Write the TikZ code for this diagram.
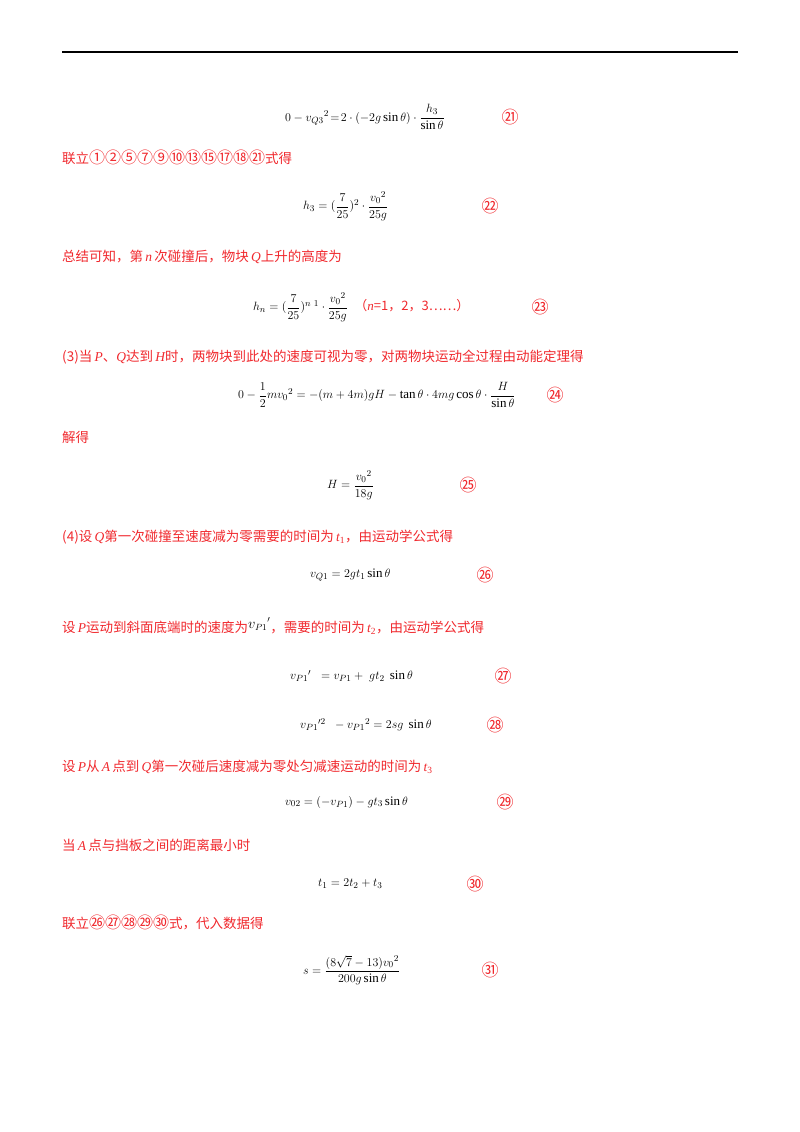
\documentclass[tikz,border=0pt]{standalone}
\usepackage{fontspec}
\setmainfont{Liberation Serif}
\newfontfamily\cjk{Noto Sans CJK SC}
\usepackage{amsmath}
\definecolor{rd}{RGB}{240,40,45}
\newcommand{\li}[1]{{\rmfamily\itshape #1}}
\newcommand{\lt}[1]{{\rmfamily\itshape t}{\rmfamily\textsubscript{#1}}}
\newcommand{\cn}[1]{{\fontsize{16}{16}\selectfont #1}}
\begin{document}
\begin{tikzpicture}[x=1pt,y=-1pt,
  eq/.style={anchor=west,inner sep=0pt,font=\fontsize{13}{15}\selectfont},
  tx/.style={anchor=west,inner sep=0pt,text=rd,font=\fontsize{13.5}{16}\selectfont\cjk},
  num/.style={anchor=center,inner sep=0pt,text=rd,font=\fontsize{17}{18}\selectfont\cjk}]
\useasboundingbox (0,0) rectangle (800,1132);
\draw[line width=1.8pt] (62,52) -- (738,52);

\node[eq] (e21) at (285,117) {$0-{v_{Q3}}^2\!=\!2\cdot(-2g\sin\theta)\cdot\dfrac{h_3}{\sin\theta}$};
\node[num] (n21) at (510,117) {㉑};
\node[tx] (t1) at (62,157) {联立\cn{①②⑤⑦⑨⑩⑬⑮⑰⑱㉑}式得};
\node[eq] (e22) at (303,206) {$h_3=(\dfrac{7}{25})^2\cdot\dfrac{{v_0}^2}{25g}$};
\node[num] (n22) at (490,206) {㉒};
\node[tx] (t2) at (62,257) {总结可知，第\,\li{n}\,次碰撞后，物块\,\li{Q}上升的高度为};
\node[eq] (e23) at (253,307) {$h_n=(\dfrac{7}{25})^{n\ 1}\cdot\dfrac{{v_0}^2}{25g}$\ \ \textcolor{rd}{\cjk （\li{n}=1，2，3……）}};
\node[num] (n23) at (540,307) {㉓};
\node[tx] (t3) at (62,357) {(3)当\,\li{P}、\li{Q}达到\,\li{H}时，两物块到此处的速度可视为零，对两物块运动全过程由动能定理得};
\node[eq] (e24) at (238,395) {$0-\dfrac12 m{v_0}^2=-(m+4m)gH-\tan\theta\cdot4mg\cos\theta\cdot\dfrac{H}{\sin\theta}$};
\node[num] (n24) at (555,395) {㉔};
\node[tx] (t4) at (62,437) {解得};
\node[eq] (e25) at (327,485) {$H=\dfrac{{v_0}^2}{18g}$};
\node[num] (n25) at (468,485) {㉕};
\node[tx] (t5) at (62,537) {(4)设\,\li{Q}第一次碰撞至速度减为零需要的时间为\,\lt{1}，由运动学公式得};
\node[eq] (e26) at (310,575) {$v_{Q1}=2gt_1\sin\theta$};
\node[num] (n26) at (485,575) {㉖};
\node[tx] (t6) at (62,626) {设\,\li{P}运动到斜面底端时的速度为\raisebox{4pt}{\textcolor{black}{${v_{P1}}'$}}，需要的时间为\,\lt{2}，由运动学公式得};
\node[eq] (e27) at (290,676) {${v_{P1}}'\ \ =v_{P1}+\ gt_2\ \sin\theta$};
\node[num] (n27) at (503,676) {㉗};
\node[eq] (e28) at (300,725) {${v_{P1}}'^2\ \ -{v_{P1}}^2=2sg\ \sin\theta$};
\node[num] (n28) at (495,725) {㉘};
\node[tx] (t7) at (62,767) {设\,\li{P}从\,\li{A}\,点到\,\li{Q}第一次碰后速度减为零处匀减速运动的时间为\,\lt{3}};
\node[eq] (e29) at (285,802) {$v_{02}=(-v_{P1})-gt_3\sin\theta$};
\node[num] (n29) at (505,802) {㉙};
\node[tx] (t8) at (62,845) {当\,\li{A}\,点与挡板之间的距离最小时};
\node[eq] (e30) at (318,884) {$t_1=2t_2+t_3$};
\node[num] (n30) at (475,884) {㉚};
\node[tx] (t9) at (62,922) {联立\cn{㉖㉗㉘㉙㉚}式，代入数据得};
\node[eq] (e31) at (303,970) {$s=\dfrac{(8\sqrt7-13){v_0}^2}{200g\sin\theta}$};
\node[num] (n31) at (490,970) {㉛};
\end{tikzpicture}
\end{document}
